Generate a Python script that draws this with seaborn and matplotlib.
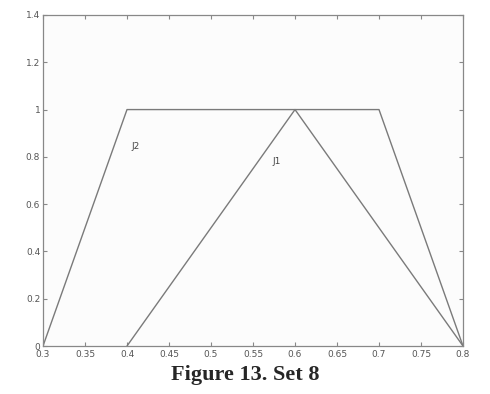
import matplotlib
matplotlib.use("Agg")
import matplotlib.pyplot as plt
import seaborn as sns
import pandas as pd

j1_x = [0.4, 0.6, 0.8]
j1_y = [0.0, 1.0, 0.0]
j2_x = [0.3, 0.4, 0.7, 0.8]
j2_y = [0.0, 1.0, 1.0, 0.0]
x_ticks = [0.3, 0.35, 0.4, 0.45, 0.5, 0.55, 0.6, 0.65, 0.7, 0.75, 0.8]
y_ticks = [0, 0.2, 0.4, 0.6, 0.8, 1.0, 1.2, 1.4]
x_tick_labels = ["0.3", "0.35", "0.4", "0.45", "0.5", "0.55", "0.6", "0.65", "0.7", "0.75", "0.8"]
y_tick_labels = ["0", "0.2", "0.4", "0.6", "0.8", "1", "1.2", "1.4"]

sns.set_style("white")
plt.rcParams['font.family'] = ['DejaVu Sans']

df = pd.concat([
    pd.DataFrame({"x": j1_x, "y": j1_y, "s": "J1"}),
    pd.DataFrame({"x": j2_x, "y": j2_y, "s": "J2"}),
])

fig = plt.figure(figsize=(4.9, 3.94), dpi=100)
ax = fig.add_axes([43/490, 48/394, 420/490, 331/394])
sns.lineplot(data=df, x="x", y="y", units="s", estimator=None, sort=False,
             color="#7a7a7a", linewidth=1.0, ax=ax, legend=False)
ax.set_xlim(0.3, 0.8)
ax.set_ylim(0, 1.4)
ax.set_xticks(x_ticks)
ax.set_xticklabels(x_tick_labels)
ax.set_yticks(y_ticks)
ax.set_yticklabels(y_tick_labels)
ax.set_xlabel("")
ax.set_ylabel("")
ax.tick_params(direction="in", length=3, width=0.8, color="#888888",
               labelsize=6.5, labelcolor="#555555", top=True, right=True,
               bottom=True, left=True, pad=2)
ax.tick_params(axis="x", pad=3)
for sp in ax.spines.values():
    sp.set_visible(True)
    sp.set_color("#888888")
    sp.set_linewidth(0.9)
ax.set_facecolor("#fcfcfc")
ax.text(0.405, 0.845, "J2", fontsize=6.5, color="#444444", va="center", ha="left")
ax.text(0.573, 0.78, "J1", fontsize=6.5, color="#444444", va="center", ha="left")
fig.text(0.5, 1 - 375/394, "Figure 13. Set 8", ha="center", va="center",
         fontsize=16, fontweight="bold", family=["Liberation Serif"])
fig.savefig("out.png", dpi=100, facecolor="white")
